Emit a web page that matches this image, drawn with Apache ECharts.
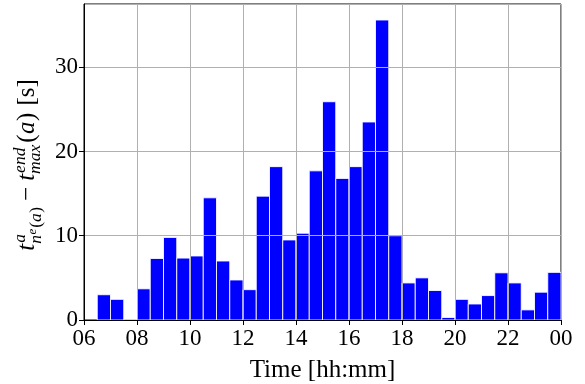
<!DOCTYPE html>
<html>
<head>
<meta charset="utf-8">
<script src="https://cdn.jsdelivr.net/npm/echarts@6/dist/echarts.min.js"></script>
<style>
  html, body { margin: 0; padding: 0; background: #fff; }
  #chart { width: 585px; height: 384px; }
</style>
</head>
<body>
<div id="chart"></div>
<script>
// half-hour slots (start of each bin)
const slots = [
  '06:30', '07:00', '07:30', '08:00', '08:30', '09:00', '09:30',
  '10:00', '10:30', '11:00', '11:30', '12:00', '12:30', '13:00', '13:30',
  '14:00', '14:30', '15:00', '15:30', '16:00', '16:30', '17:00', '17:30',
  '18:00', '18:30', '19:00', '19:30', '20:00', '20:30', '21:00', '21:30',
  '22:00', '22:30', '23:00', '23:30'
];
// delay in seconds per slot
const delays = [
  3.0, 2.45, 0, 3.7, 7.3, 9.8, 7.35,
  7.6, 14.5, 7.0, 4.75, 3.6, 14.7, 18.2, 9.5,
  10.3, 17.7, 25.9, 16.8, 18.2, 23.5, 35.6, 10.0,
  4.4, 5.0, 3.5, 0.3, 2.45, 1.9, 2.9, 5.6,
  4.4, 1.2, 3.3, 5.65
];
const yTicks = [0, 10, 20, 30];
const xLabel = 'Time [hh:mm]';

const toHour = (s) => {
  const [h, m] = s.split(':').map(Number);
  return h + m / 60;
};
const binWidth = 0.5;

const FONT = '"Liberation Serif", "DejaVu Serif", serif';

// --- y-axis label laid out as math text (rotated group) ---
const mctx = document.createElement('canvas').getContext('2d');
function textW(txt, size, italic) {
  mctx.font = (italic ? 'italic ' : '') + size + 'px ' + FONT;
  return mctx.measureText(txt).width;
}
function buildYLabel() {
  const S = 25, s = 17.5, ss = 13;
  const K = 0.33;
  const parts = [];
  const put = (txt, x, base, size, italic) => {
    parts.push({
      type: 'text',
      x: x,
      y: base - K * size,
      style: {
        text: txt,
        fontSize: size,
        fontFamily: FONT,
        fontStyle: italic ? 'italic' : 'normal',
        fill: '#000',
        verticalAlign: 'middle',
        align: 'left'
      }
    });
    return x + textW(txt, size, italic);
  };
  let cx = 0;
  // t^a_{n^e(a)}
  cx = put('t', cx, 0, S, true);
  const supEnd1 = put('a', cx + 1, -10, s, true);
  let sx = put('n', cx, 6, s, true);
  sx = put('e', sx + 0.5, 1, ss, true);
  sx = put('(', sx + 1, 6, s, false);
  sx = put('a', sx, 6, s, true);
  sx = put(')', sx + 0.5, 6, s, false);
  cx = Math.max(supEnd1, sx) + 6;
  // minus
  cx = put('\u2212', cx, 0, S, false) + 6;
  // t^{end}_{max}(a)
  cx = put('t', cx, 0, S, true);
  const supEnd2 = put('end', cx + 1, -10, s, true);
  const subEnd2 = put('max', cx, 5, s, true);
  cx = Math.max(supEnd2, subEnd2) + 2;
  cx = put('(', cx, 0, S, false);
  cx = put('a', cx + 0.5, 0, S, true);
  cx = put(')', cx + 0.5, 0, S, false) + 7;
  cx = put('[s]', cx, 0, S, false);
  const total = cx;
  return {
    type: 'group',
    x: 36,
    y: 165 + total / 2,
    rotation: Math.PI / 2,
    children: parts
  };
}

const chart = echarts.init(document.getElementById('chart'), null, { renderer: 'canvas' });

const barData = slots.map((s, i) => [toHour(s), delays[i]]);

const option = {
  animation: false,
  backgroundColor: '#fff',
  grid: {
    left: 84,
    right: 24,
    top: 4,
    bottom: 64,
    outerBoundsMode: 'none',
    containLabel: false,
    show: true,
    borderColor: '#000',
    borderWidth: 1,
    backgroundColor: 'transparent'
  },
  xAxis: {
    type: 'value',
    min: 6,
    max: 24,
    interval: 2,
    z: 3,
    name: xLabel,
    nameLocation: 'middle',
    nameGap: 38,
    nameTextStyle: { fontFamily: FONT, fontSize: 25, color: '#000' },
    axisLine: { show: true, lineStyle: { color: '#000', width: 1 } },
    axisTick: { show: true, inside: false, length: 5, lineStyle: { color: '#000' } },
    axisLabel: {
      margin: 7,
      fontFamily: FONT,
      fontSize: 23,
      color: '#000',
      formatter: (v) => (v === 24 ? '00' : String(v).padStart(2, '0'))
    },
    splitLine: { show: true, lineStyle: { color: '#b0b0b0', width: 1 } }
  },
  yAxis: {
    type: 'value',
    min: 0,
    max: 37.5,
    interval: 10,
    z: 3,
    axisLine: { show: true, lineStyle: { color: '#000', width: 1 } },
    axisTick: { show: true, inside: false, length: 5, lineStyle: { color: '#000' } },
    axisLabel: {
      margin: 6,
      fontFamily: FONT,
      fontSize: 23,
      color: '#000',
      showMaxLabel: false,
      formatter: (v) => (yTicks.includes(v) ? String(v) : '')
    },
    splitLine: { show: true, lineStyle: { color: '#b0b0b0', width: 1 } }
  },
  series: [
    {
      type: 'custom',
      z: 1,
      data: barData,
      renderItem: (params, api) => {
        const start = api.value(0);
        const val = api.value(1);
        const p0 = api.coord([start, 0]);
        const p1 = api.coord([start + binWidth, val]);
        return {
          type: 'rect',
          shape: {
            x: p0[0],
            y: p1[1],
            width: p1[0] - p0[0],
            height: p0[1] - p1[1]
          },
          style: {
            fill: '#0000ff',
            stroke: 'rgba(255,255,255,0.85)',
            lineWidth: 1
          }
        };
      }
    }
  ],
  graphic: [buildYLabel()]
};

chart.setOption(option);
</script>
</body>
</html>
